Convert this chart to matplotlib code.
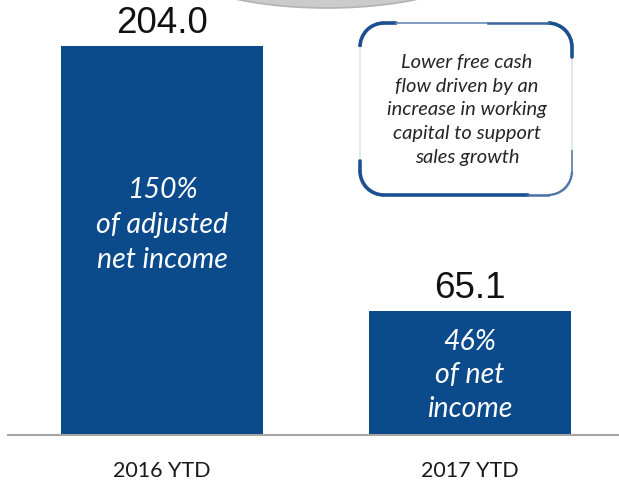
import matplotlib.pyplot as plt
import numpy as np
from matplotlib.patches import Arc, Ellipse, FancyBboxPatch

# data
periods = ["2016 YTD", "2017 YTD"]
free_cash_flow = [204.0, 65.1]
bar_notes = ["150%\nof adjusted\nnet income", "46%\nof net\nincome"]
callout = "Lower free cash\nflow driven by an\nincrease in working\ncapital to support\nsales growth"

bar_color = "#0b4a8b"
box_color = "#1b4f90"

fig = plt.figure(figsize=(6.19, 4.84), dpi=100)
fig.patch.set_facecolor("white")

# decoration layer in figure pixels (y up)
deco = fig.add_axes([0, 0, 1, 1])
deco.set_xlim(0, 619)
deco.set_ylim(0, 484)
deco.axis("off")

# grey shape peeking in at the top
deco.add_patch(Ellipse((327, 526), 320, 100, facecolor="#cbcbcb",
                       edgecolor="#b3b3b3", lw=1.2))

# main bar chart
ax = fig.add_axes([8 / 619, 49 / 484, 611 / 619, 429 / 484])
ax.set_facecolor("none")
x = np.arange(len(periods))
bars = ax.bar(x, free_cash_flow, width=0.656, color=bar_color, zorder=2)
ax.set_xlim(-0.5, 1.484)
ax.set_ylim(0, 225)
ax.set_yticks([])
ax.set_xticks(x)
ax.set_xticklabels(periods, fontsize=15.5, family="Lato", color="#1a1a1a")
ax.tick_params(axis="x", length=0, pad=19)
for s in ["top", "right", "left"]:
    ax.spines[s].set_visible(False)
ax.spines["bottom"].set_color("#a6a6a6")
ax.spines["bottom"].set_linewidth(1.5)

for xi, v in zip(x, free_cash_flow):
    ax.annotate("{:.1f}".format(v), (xi, v), xytext=(0, 9.5),
                textcoords="offset points", ha="center", va="baseline",
                fontsize=26.5, family="Liberation Sans", color="#111111")

# notes inside bars
note_frac = [0.54, 0.48]
note_space = [1.42, 1.36]
for xi, v, note, f, ls in zip(x, free_cash_flow, bar_notes, note_frac, note_space):
    ax.text(xi, v * f, note, ha="center", va="center", color="white",
            fontsize=20.5, family="Lato", style="italic", linespacing=ls)

# callout box
L, R, B, T, r = 360, 572, 289, 461, 24
deco.add_patch(FancyBboxPatch((L, B), R - L, T - B,
                              boxstyle="round,pad=0,rounding_size=24",
                              facecolor="none", edgecolor="#d3deea", lw=1.0))
strong = dict(color=box_color, lw=2.6, solid_capstyle="round")
deco.add_patch(Arc((L + r, T - r), 2 * r, 2 * r, theta1=90, theta2=180,
                   color=box_color, lw=2.6))
deco.plot([L + r, L + r + 12], [T, T], **strong)
deco.plot([L + r + 12, R - r - 60], [T, T], color="#6f8fb8", lw=1.2)
deco.plot([R - r - 60, R - r], [T, T], color="#3c679e", lw=1.8)
deco.add_patch(Arc((R - r, T - r), 2 * r, 2 * r, theta1=0, theta2=90,
                   color=box_color, lw=2.6))
deco.plot([R, R], [T - r, T - r - 10], **strong)
deco.add_patch(Arc((L + r, B + r), 2 * r, 2 * r, theta1=180, theta2=270,
                   color=box_color, lw=2.6))
deco.plot([L, L], [B + r, B + r + 10], **strong)
deco.plot([L + r, R - r - 20], [B, B], **strong)
deco.plot([R - r - 20, R - r], [B, B], color="#4a72a6", lw=1.8)
deco.add_patch(Arc((R - r, B + r), 2 * r, 2 * r, theta1=270, theta2=360,
                   color="#4a72a6", lw=1.6))
deco.plot([R, R], [B + r, B + r + 20], color="#6f8fb8", lw=1.4)

deco.text((L + R) / 2 + 1, (B + T) / 2 - 1, callout, ha="center", va="center",
          fontsize=14.5, family="Lato", style="italic", color="#262626",
          linespacing=1.47)

fig.savefig("out.png", dpi=100)
